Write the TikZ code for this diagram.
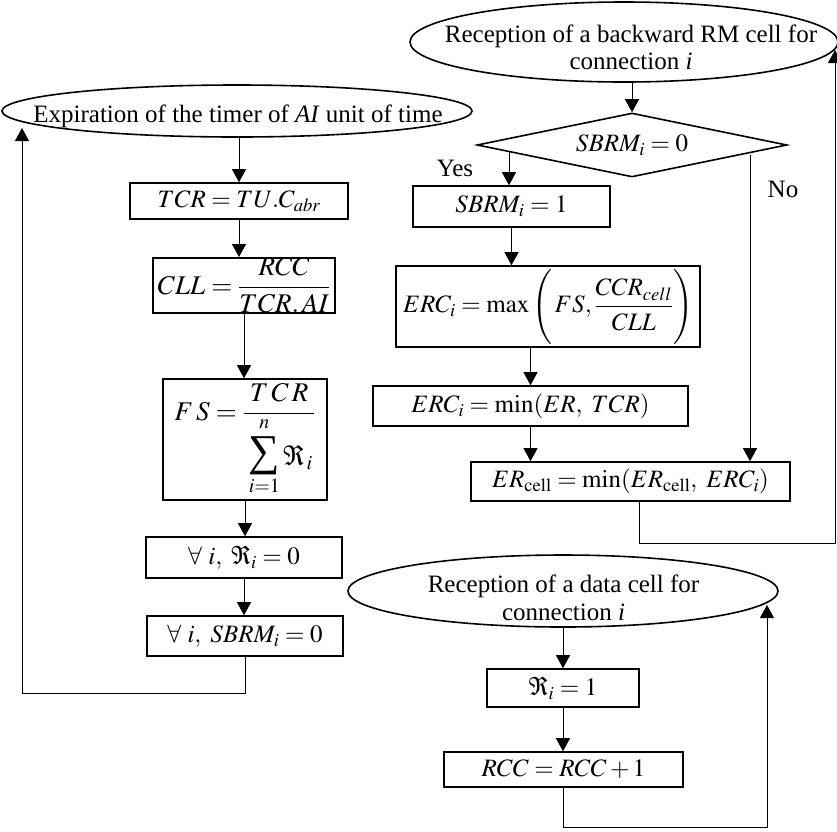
\documentclass[tikz,border=0pt]{standalone}
\usepackage{amsmath}
\usepackage{mathptmx}
\usepackage[no-math]{fontspec}
\setmainfont{Liberation Serif}
\usetikzlibrary{shapes.geometric,arrows.meta}
\newcommand{\bigsum}{\mathop{\hbox{\fontsize{44}{44}\selectfont\char"2211}}}
\begin{document}
\begin{tikzpicture}[x=1pt,y=-1pt,
  every node/.style={font=\fontsize{25}{27}\selectfont, inner sep=0pt},
  bigmath/.style={font=\fontsize{27}{29}\selectfont},
  box/.style={draw, line width=1.6pt, rectangle},
  oval/.style={draw, line width=1.6pt, ellipse},
  arr/.style={line width=0.9pt, -{Triangle[length=13pt,width=14pt]}},
  ln/.style={line width=0.9pt}]
\useasboundingbox (0,0) rectangle (837,831);

% ---- left column
\node[oval, minimum width=470, minimum height=52] (e1) at (237,111) {};
\node[anchor=base] (t1) at (238,122) {Expiration of the timer of \textit{AI} unit of time};
\node[box, minimum width=218, minimum height=36] (tcr) at (239,201) {$TCR = TU.C_{abr}$};
\node[box, bigmath, minimum width=182, minimum height=53] (cll) at (244,285.5) {$CLL = \dfrac{\;RCC\;}{\rule{0pt}{20pt}TCR.\,AI}$};
\node[box, bigmath, minimum width=164, minimum height=121] (fs) at (245,439.5) {$F\,S = \dfrac{\;T\,C\,R\;}{\rule{0pt}{34pt}\bigsum\limits_{\rule{0pt}{13pt}i=1}^{n\rule[-5pt]{0pt}{0pt}}\Re_{\,i}}$};
\node[box, minimum width=196, minimum height=41] (r0) at (244,557.5) {$\forall\ i,\ \Re_i = 0$};
\node[box, minimum width=196, minimum height=40] (sb0) at (245,636) {$\forall\ i,\ SBRM_i = 0$};

% ---- right column (RM cell)
\node[oval, minimum width=428, minimum height=80] (e2) at (624,42) {};
\node[anchor=base] (t2a) at (631,42) {Reception of a backward RM cell for};
\node[anchor=base] (t2b) at (631,69) {connection \textit{i}};
\node[draw, diamond, aspect=4.84, minimum width=310, minimum height=64, line width=1.6pt] (d) at (632,145) {$SBRM_i = 0$};
\node[anchor=base] (yes) at (455,176) {Yes};
\node[anchor=base] (no) at (783,197) {No};
\node[box, minimum width=197, minimum height=41] (sb1) at (511.5,206.5) {$SBRM_i = 1$};
\node[box, minimum width=304, minimum height=81] (mx) at (548,306.5) {$ERC_i = \max\left(\rule[-31pt]{0pt}{75pt}\,FS, \dfrac{CCR_{cell}}{\rule{0pt}{19pt}CLL}\right)$};
\node[box, minimum width=315, minimum height=40] (mn) at (530.5,406) {$ERC_i = \min(ER,\ TCR)$};
\node[box, minimum width=319, minimum height=39] (erc) at (630.5,481.5) {$ER_{\mathrm{cell}} = \min(ER_{\mathrm{cell}},\ ERC_i)$};

% ---- data cell
\node[oval, minimum width=430, minimum height=72] (e3) at (563,591) {};
\node[anchor=base] (t3a) at (563.5,592) {Reception of a data cell for};
\node[anchor=base] (t3b) at (563.5,620) {connection \textit{i}};
\node[box, minimum width=152, minimum height=38] (ri1) at (563,688) {$\Re_i = 1$};
\node[box, minimum width=239, minimum height=35] (rcc) at (563.5,769.5) {$RCC = RCC + 1$};

% ---- coordinates for loose ends
\coordinate (lb) at (22,693);
\coordinate (lt) at (22,128);
\coordinate (ys) at (509,152);
\coordinate (ns) at (750,155);
\coordinate (rb) at (835,543);
\coordinate (rt) at (835,50);
\coordinate (db) at (767,827);
\coordinate (dt) at (767,605);

% ---- connectors left
\draw[arr] (tcr.north |- e1.south) -- (tcr.north);
\draw[arr] (tcr.south) -- (tcr.south |- cll.north);
\draw[arr] (cll.south) -- (cll.south |- fs.north);
\draw[arr] (fs.south) -- (fs.south |- r0.north);
\draw[arr] (r0.south) -- (r0.south |- sb0.north);
\draw[arr] (sb0.south) |- (lb) -- (lt);

% ---- connectors RM
\draw[arr] (d.north |- e2.south) -- (d.north);
\draw[arr] (ys) -- (ys |- sb1.north);
\draw[arr] (sb1.south) -- (sb1.south |- mx.north);
\draw[arr] (mn.north |- mx.south) -- (mn.north);
\draw[arr] (mn.south) -- (mn.south |- erc.north);
\draw[arr] (ns) -- (ns |- erc.north);
\draw[arr] ([xshift=8.5pt]erc.south) |- (rb) -- (rt);

% ---- connectors data
\draw[arr] (e3.south) -- (e3.south |- ri1.north);
\draw[arr] (ri1.south) -- (ri1.south |- rcc.north);
\draw[arr] (rcc.south) |- (db) -- (dt);
\end{tikzpicture}
\end{document}
